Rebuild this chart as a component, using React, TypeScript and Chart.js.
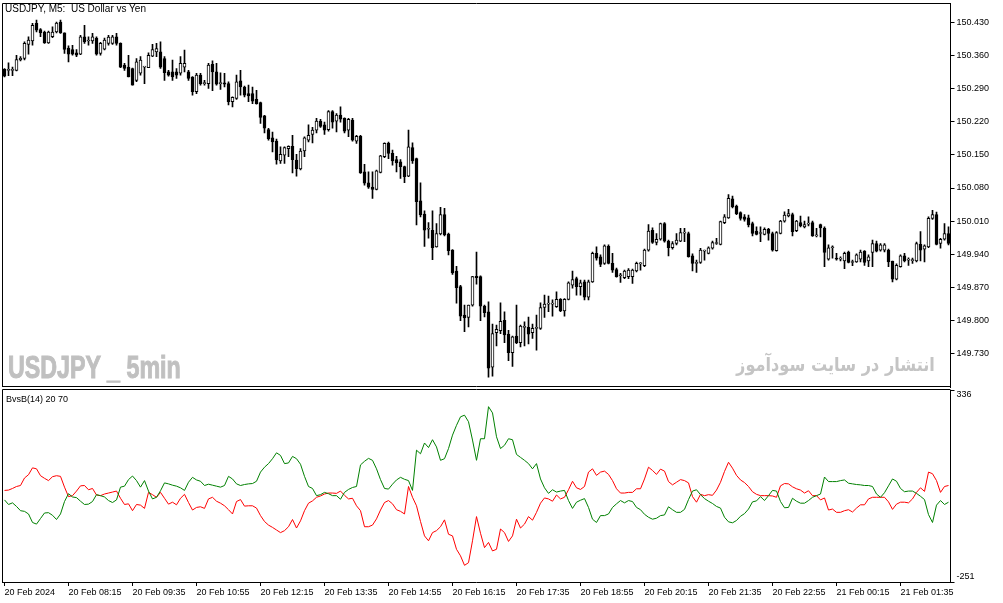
import React, { useEffect, useRef } from "react";
import { Chart, registerables } from "chart.js";

Chart.register(...registerables);

// ---- price data (USDJPY, M5) ----
const OPEN = [
  150.330,150.328,150.328,150.328,150.350,150.353,150.383,150.390,150.427,150.414,
  150.409,150.386,150.399,150.409,150.430,150.407,150.375,150.372,150.365,150.362,
  150.399,150.390,150.390,150.396,150.364,150.373,150.385,150.385,150.399,150.385,
  150.339,150.335,150.332,150.307,150.322,150.335,150.334,150.358,150.367,150.367,
  150.353,150.325,150.325,150.325,150.322,150.335,150.325,150.314,150.283,150.318,
  150.300,150.300,150.341,150.325,150.300,150.302,150.300,150.262,150.269,150.306,
  150.293,150.279,150.279,150.267,150.260,150.232,150.203,150.186,150.179,150.137,
  150.149,150.163,150.168,150.139,150.120,150.158,150.181,150.193,150.202,150.221,
  150.213,150.203,150.241,150.221,150.234,150.227,150.202,150.223,150.179,150.189,
  150.114,150.091,150.082,150.077,150.113,150.146,150.174,150.153,150.140,150.135,
  150.125,150.105,150.165,150.142,150.053,150.025,149.993,149.991,149.956,149.983,
  150.024,149.983,149.949,149.905,149.872,149.812,149.807,149.833,149.894,149.893,
  149.831,149.819,149.702,149.775,149.779,149.801,149.772,149.733,149.768,149.754,
  149.786,149.786,149.775,149.784,149.784,149.828,149.835,149.835,149.830,149.845,
  149.821,149.845,149.875,149.889,149.872,149.882,149.850,149.882,149.942,149.935,
  149.921,149.957,149.921,149.908,149.895,149.891,149.893,149.893,149.905,149.920,
  149.916,149.949,149.991,149.965,149.972,150.005,149.968,149.954,149.963,149.968,
  149.985,149.984,149.937,149.921,149.923,149.947,149.942,149.953,149.963,149.961,
  150.007,150.017,150.057,150.042,150.028,150.019,150.017,150.005,149.989,149.984,
  149.982,149.993,149.984,149.948,149.984,150.010,150.021,150.024,149.990,150.007,
  149.998,150.004,150.007,149.979,150.003,149.995,149.930,149.954,149.932,149.930,
  149.926,149.945,149.923,149.924,149.930,149.947,149.926,149.944,149.963,149.949,
  149.949,149.949,149.926,149.888,149.914,149.937,149.928,149.927,149.926,149.961,
  149.951,149.956,150.016,150.024,149.963,149.972,149.984,
];
const HIGH = [
  150.332,150.344,150.335,150.360,150.357,150.388,150.399,150.427,150.434,150.416,
  150.411,150.411,150.420,150.430,150.434,150.407,150.380,150.381,150.372,150.402,
  150.423,150.399,150.406,150.399,150.387,150.396,150.402,150.402,150.406,150.386,
  150.343,150.360,150.333,150.353,150.357,150.336,150.365,150.383,150.385,150.388,
  150.357,150.328,150.350,150.332,150.357,150.371,150.328,150.315,150.322,150.322,
  150.307,150.343,150.348,150.343,150.323,150.322,150.304,150.272,150.318,150.328,
  150.295,150.297,150.293,150.286,150.261,150.233,150.206,150.198,150.183,150.167,
  150.167,150.169,150.191,150.151,150.163,150.188,150.213,150.208,150.227,150.225,
  150.219,150.243,150.243,150.237,150.251,150.228,150.227,150.227,150.191,150.191,
  150.130,150.114,150.114,150.118,150.149,150.175,150.177,150.160,150.147,150.140,
  150.126,150.202,150.175,150.143,150.091,150.032,150.007,150.032,150.005,150.039,
  150.037,149.985,149.950,149.915,149.875,149.833,149.833,149.894,149.945,149.895,
  149.833,149.840,149.793,149.791,149.838,149.819,149.780,149.768,149.833,149.791,
  149.798,149.808,149.793,149.812,149.838,149.854,149.852,149.844,149.861,149.847,
  149.847,149.882,149.905,149.892,149.886,149.886,149.886,149.945,149.956,149.939,
  149.960,149.960,149.942,149.911,149.900,149.907,149.910,149.909,149.924,149.923,
  149.951,150.003,149.996,149.984,150.006,150.007,149.970,149.967,149.984,149.995,
  149.995,149.987,149.941,149.928,149.953,149.949,149.956,149.968,149.974,150.010,
  150.024,150.066,150.063,150.044,150.030,150.024,150.023,150.008,149.998,149.998,
  149.996,149.995,149.987,149.988,150.012,150.030,150.035,150.027,150.012,150.021,
  150.010,150.019,150.010,149.995,150.004,149.998,149.960,149.958,149.942,149.935,
  149.945,149.947,149.928,149.941,149.949,149.948,149.939,149.970,149.968,149.963,
  149.963,149.951,149.926,149.920,149.939,149.942,149.933,149.932,149.966,149.988,
  149.960,150.019,150.033,150.029,149.974,150.005,149.998,
];
const LOW = [
  150.314,150.317,150.317,150.327,150.348,150.350,150.362,150.381,150.409,150.399,
  150.385,150.385,150.397,150.407,150.406,150.364,150.346,150.360,150.357,150.361,
  150.385,150.381,150.385,150.360,150.360,150.371,150.381,150.383,150.381,150.334,
  150.328,150.314,150.297,150.304,150.318,150.300,150.334,150.357,150.357,150.332,
  150.307,150.316,150.307,150.311,150.318,150.325,150.307,150.276,150.279,150.297,
  150.297,150.290,150.285,150.297,150.288,150.293,150.255,150.251,150.267,150.276,
  150.272,150.262,150.258,150.257,150.216,150.196,150.181,150.156,150.130,150.132,
  150.132,150.146,150.112,150.105,150.118,150.146,150.177,150.175,150.196,150.208,
  150.193,150.200,150.206,150.198,150.219,150.196,150.188,150.179,150.174,150.111,
  150.086,150.079,150.058,150.076,150.112,150.144,150.142,150.128,150.114,150.100,
  150.091,150.104,150.132,150.002,150.019,149.957,149.974,149.929,149.955,149.981,
  149.979,149.939,149.898,149.837,149.800,149.777,149.787,149.831,149.877,149.800,
  149.808,149.681,149.683,149.747,149.773,149.754,149.716,149.704,149.752,149.745,
  149.747,149.751,149.763,149.738,149.782,149.807,149.819,149.810,149.828,149.819,
  149.810,149.844,149.869,149.854,149.854,149.844,149.844,149.881,149.928,149.914,
  149.919,149.920,149.902,149.892,149.881,149.889,149.889,149.879,149.903,149.907,
  149.914,149.947,149.963,149.960,149.970,149.966,149.937,149.951,149.960,149.967,
  149.967,149.934,149.905,149.902,149.921,149.928,149.941,149.951,149.961,149.960,
  150.005,150.016,150.038,150.024,150.012,150.010,149.998,149.979,149.981,149.967,
  149.981,149.970,149.947,149.947,149.983,150.008,150.019,149.979,149.988,149.998,
  149.996,150.000,149.978,149.977,149.977,149.914,149.928,149.932,149.928,149.926,
  149.910,149.922,149.916,149.923,149.924,149.917,149.914,149.914,149.945,149.947,
  149.945,149.914,149.882,149.886,149.913,149.924,149.917,149.921,149.924,149.926,
  149.924,149.954,150.014,149.960,149.953,149.970,149.960,
];
const CLOSE = [
  150.316,150.328,150.328,150.351,150.354,150.385,150.392,150.423,150.413,150.407,
  150.386,150.409,150.409,150.428,150.407,150.372,150.362,150.362,150.360,150.399,
  150.388,150.390,150.399,150.362,150.385,150.392,150.398,150.399,150.385,150.335,
  150.332,150.314,150.297,150.346,150.350,150.335,150.360,150.372,150.374,150.335,
  150.323,150.318,150.314,150.318,150.343,150.343,150.311,150.283,150.318,150.300,
  150.300,150.339,150.325,150.299,150.300,150.299,150.262,150.271,150.304,150.293,
  150.276,150.274,150.263,150.258,150.229,150.206,150.184,150.177,150.139,150.151,
  150.165,150.168,150.140,150.121,150.158,150.186,150.191,150.202,150.221,150.210,
  150.202,150.241,150.219,150.234,150.225,150.200,150.225,150.181,150.189,150.112,
  150.090,150.082,150.077,150.116,150.148,150.174,150.153,150.137,150.133,150.125,
  150.104,150.167,150.137,150.051,150.023,149.991,149.993,149.954,149.984,150.024,
  149.981,149.948,149.901,149.870,149.810,149.806,149.833,149.893,149.891,149.831,
  149.817,149.700,149.773,149.782,149.799,149.770,149.733,149.766,149.754,149.789,
  149.786,149.772,149.784,149.784,149.828,149.835,149.837,149.835,149.845,149.821,
  149.845,149.880,149.887,149.872,149.880,149.850,149.882,149.942,149.932,149.919,
  149.958,149.921,149.907,149.893,149.895,149.905,149.907,149.907,149.921,149.920,
  149.949,149.989,149.965,149.972,150.005,149.968,149.954,149.963,149.970,149.986,
  149.985,149.935,149.921,149.921,149.949,149.947,149.954,149.965,149.963,150.009,
  150.019,150.058,150.040,150.026,150.016,150.014,150.002,149.984,149.982,149.984,
  149.993,149.984,149.949,149.986,150.010,150.023,150.026,149.988,150.010,150.000,
  150.003,150.004,149.979,149.979,149.996,149.944,149.954,149.954,149.930,149.930,
  149.942,149.923,149.923,149.939,149.945,149.923,149.935,149.963,149.947,149.960,
  149.960,149.924,149.888,149.917,149.937,149.926,149.928,149.929,149.963,149.949,
  149.958,150.016,150.024,149.961,149.972,149.984,149.963,
];

// ---- BvsB(14) indicator ----
const BEARS = [
  0,-14,-9,-20,-33,-35,-43,-69,-74,-57,
  -40,-39,-47,-60,-43,-5,19,9,7,-4,
  -14,-13,-5,16,13,9,-2,-8,0,39,
  42,62,73,59,39,59,27,3,8,28,
  52,49,45,42,37,29,54,69,61,57,
  44,48,45,42,39,44,72,64,49,44,
  47,49,50,57,85,100,111,126,144,136,
  111,113,133,126,109,72,41,35,13,16,
  23,19,13,13,2,23,32,38,41,107,
  118,127,121,95,62,35,33,48,61,69,
  63,59,29,152,141,174,160,184,162,121,
  126,157,198,228,254,259,239,183,121,187,
  187,285,266,193,157,167,187,184,139,130,
  121,111,95,111,64,37,20,31,24,27,
  29,-2,-26,-7,-1,4,-23,-59,-69,-48,
  -48,-43,-23,-12,-2,-9,-2,-5,-23,-30,
  -44,-53,-59,-56,-48,-46,-21,-30,-38,-38,
  -29,1,27,31,16,4,-4,-11,-20,-25,
  -53,-67,-70,-63,-50,-42,-28,-6,-3,10,
  -2,13,29,27,-5,-24,-23,5,-4,-10,
  -10,-2,8,13,18,70,56,56,56,59,
  61,51,49,47,46,44,44,41,18,8,
  22,43,64,57,35,25,27,27,20,11,
  1,-45,-69,-16,-2,-14,-7,
];
const BULLS = [
  29,30,35,41,44,67,77,98,95,74,
  66,59,71,74,72,39,10,13,27,43,
  44,31,35,15,13,18,21,24,27,5,
  -14,-12,-33,-14,-16,-26,23,16,8,23,
  5,-13,-7,-15,5,17,-8,-31,-23,-21,
  -26,3,8,-4,-10,-18,-30,-43,-5,1,
  -19,-18,-18,-25,-48,-66,-77,-84,-92,-100,
  -94,-82,-60,-86,-64,-33,-10,-3,8,12,
  18,21,21,20,27,14,3,5,-18,-33,
  -82,-82,-77,-58,-31,-8,-2,-12,-30,-35,
  -43,41,8,-18,-66,-110,-125,-100,-94,-82,
  -61,-105,-110,-151,-171,-200,-192,-125,-51,-102,
  -146,-130,-156,-151,-89,-100,-127,-110,-59,-86,
  -74,-51,-62,-38,-10,6,3,-4,15,3,
  8,31,57,37,32,41,85,95,75,85,
  88,78,59,34,21,21,23,23,34,34,
  64,100,90,78,94,88,56,46,54,62,
  59,52,10,-7,17,13,16,14,30,54,
  87,115,97,75,61,53,41,25,17,13,
  13,13,12,8,43,50,49,40,34,30,
  21,28,13,13,0,6,-31,-28,-38,-38,
  -33,-30,-37,-25,-15,-15,3,8,8,8,
  8,-6,-29,-13,-7,-7,-9,3,23,37,
  26,85,80,59,23,41,44,
];

const PRICE_TICKS = [150.43, 150.36, 150.29, 150.22, 150.15, 150.08, 150.01, 149.94, 149.87, 149.8, 149.73];
const PRICE_MIN = 149.6604;
const PRICE_MAX = 150.4701;
const IND_MAX = 336;
const IND_MIN = -251;

const FIRST_LABEL = "20 Feb 2024";
const START_DAY = 20;
const START_MINUTE = 6 * 60 + 55;
const BAR_MINUTES = 5;
const LABEL_EVERY = 16;

const pad2 = (n: number) => String(n).padStart(2, "0");
const CATEGORIES = CLOSE.map((_, i) => {
  const t = START_MINUTE + i * BAR_MINUTES;
  const day = START_DAY + Math.floor(t / 1440);
  const m = t % 1440;
  return `${day} Feb ${pad2(Math.floor(m / 60))}:${pad2(m % 60)}`;
});

const FONT = "'Liberation Sans', Arial, sans-serif";

const framePlugin = {
  id: "frame",
  afterDraw(chart: any, _args: any, opts: any) {
    const { ctx, chartArea: a } = chart;
    const left = Math.floor(a.left) + 0.5;
    const right = Math.floor(a.right) + 0.5;
    const top = Math.round(a.top) + (opts.topShift || 0) + 0.5;
    const bottom = Math.round(a.bottom) - 0.5;
    ctx.save();
    ctx.strokeStyle = "#000";
    ctx.lineWidth = 1;
    ctx.beginPath();
    ctx.moveTo(left, bottom + 0.5);
    ctx.lineTo(left, top);
    ctx.lineTo(right, top);
    if (opts.bottom) {
      ctx.moveTo(left, bottom);
      ctx.lineTo(right, bottom);
    }
    ctx.stroke();
    ctx.restore();
  },
};

const extremesPlugin = {
  id: "extremes",
  afterDraw(chart: any) {
    const { ctx, chartArea: a } = chart;
    const y = chart.scales.y;
    ctx.save();
    ctx.fillStyle = "#000";
    ctx.font = `9px ${FONT}`;
    ctx.textAlign = "left";
    ctx.textBaseline = "middle";
    ctx.fillText(String(y.max), a.right + 6, a.top + 5);
    ctx.fillText(String(y.min), a.right + 6, a.bottom - 5);
    ctx.restore();
  },
};

export default function App() {
  const topRef = useRef<HTMLCanvasElement>(null);
  const botRef = useRef<HTMLCanvasElement>(null);

  useEffect(() => {
    document.body.style.margin = "0";
    const font = { family: FONT, size: 9 };
    const bull = CLOSE.map((c, i) => c >= OPEN[i]);

    const top = new Chart(topRef.current as HTMLCanvasElement, {
      type: "bar",
      data: {
        labels: CATEGORIES,
        datasets: [
          {
            label: "wick",
            data: LOW.map((l, i) => [l, HIGH[i]]),
            backgroundColor: "#000",
            borderWidth: 0,
            barThickness: 1,
            grouped: false,
            order: 2,
          } as any,
          {
            label: "body",
            data: OPEN.map((o, i) => [o, CLOSE[i]]),
            backgroundColor: bull.map((b) => (b ? "#fff" : "#000")),
            borderColor: "#000",
            borderWidth: 1,
            borderSkipped: false,
            barThickness: 3,
            minBarLength: 1,
            grouped: false,
            order: 1,
          } as any,
        ],
      },
      options: {
        animation: false,
        responsive: false,
        events: [],
        layout: { padding: { left: 2.5, top: 3, right: 0, bottom: 1 } },
        plugins: {
          legend: { display: false },
          tooltip: { enabled: false },
          frame: { bottom: true },
        } as any,
        scales: {
          x: { display: false, offset: true },
          y: {
            position: "right",
            min: PRICE_MIN,
            max: PRICE_MAX,
            afterBuildTicks: (s: any) => {
              s.ticks = PRICE_TICKS.map((v) => ({ value: v }));
            },
            afterFit: (s: any) => {
              s.width = 52.5;
              s.paddingTop = 0;
              s.paddingBottom = 0;
            },
            ticks: {
              font,
              color: "#000",
              padding: 2,
              callback: (v: any) => Number(v).toFixed(3),
            },
            grid: { drawOnChartArea: false, color: "#000", tickLength: 4 },
            border: { color: "#000" },
          } as any,
        },
      },
      plugins: [framePlugin],
    });

    const bot = new Chart(botRef.current as HTMLCanvasElement, {
      type: "line",
      data: {
        labels: CATEGORIES,
        datasets: [
          {
            label: "Bears",
            data: BEARS,
            borderColor: "#008000",
            borderWidth: 1,
            pointRadius: 0,
            tension: 0,
          },
          {
            label: "Bulls",
            data: BULLS,
            borderColor: "#ff0000",
            borderWidth: 1,
            pointRadius: 0,
            tension: 0,
          },
        ],
      },
      options: {
        animation: false,
        responsive: false,
        events: [],
        layout: { padding: { left: 2.5, top: 2, right: 0, bottom: 0 } },
        plugins: {
          legend: { display: false },
          tooltip: { enabled: false },
          frame: { bottom: false, topShift: -1 },
        } as any,
        scales: {
          x: {
            offset: true,
            afterFit: (s: any) => {
              s.height = 21;
              s.paddingLeft = 0;
              s.paddingRight = 0;
            },
            grid: { drawOnChartArea: false, color: "#000", tickLength: 4, offset: false },
            border: { color: "#000" },
            ticks: {
              autoSkip: false,
              maxRotation: 0,
              minRotation: 0,
              align: "start",
              padding: 1,
              font,
              color: "#000",
              callback: (_v: any, i: number) =>
                i % LABEL_EVERY === 0 ? (i === 0 ? FIRST_LABEL : CATEGORIES[i]) : null,
            },
          } as any,
          y: {
            position: "right",
            min: IND_MIN,
            max: IND_MAX,
            afterBuildTicks: (s: any) => {
              s.ticks = [{ value: IND_MAX }, { value: IND_MIN }];
            },
            afterFit: (s: any) => {
              s.width = 52.5;
              s.paddingTop = 0;
              s.paddingBottom = 0;
            },
            ticks: { display: false },
            grid: { drawOnChartArea: false, color: "#000", tickLength: 4 },
            border: { color: "#000" },
          } as any,
        },
      },
      plugins: [framePlugin, extremesPlugin],
    });

    return () => {
      top.destroy();
      bot.destroy();
    };
  }, []);

  return (
    <div style={{ position: "relative", width: 1003, height: 603, background: "#fff", overflow: "hidden" }}>
      <canvas ref={topRef} width={1003} height={388} style={{ position: "absolute", left: 0, top: 0, width: 1003, height: 388 }} />
      <canvas ref={botRef} width={1003} height={215} style={{ position: "absolute", left: 0, top: 388, width: 1003, height: 215 }} />
      <div style={{ position: "absolute", left: 5, top: 3, fontFamily: FONT, fontSize: 10, lineHeight: "12px", color: "#000", whiteSpace: "pre" }}>
        {"USDJPY, M5:  US Dollar vs Yen"}
      </div>
      <div style={{ position: "absolute", left: 6, top: 393, fontFamily: FONT, fontSize: 9, lineHeight: "12px", color: "#000", whiteSpace: "pre" }}>
        {"BvsB(14) 20 70"}
      </div>
      <div style={{ position: "absolute", left: 8, top: 350, fontFamily: "'Liberation Sans Narrow', 'Liberation Sans', sans-serif", fontWeight: "bold", fontSize: 31, lineHeight: "36px", color: "#c0c0c0", whiteSpace: "pre", transform: "scaleX(0.75)", transformOrigin: "0 0", WebkitTextStroke: "1px #c0c0c0" }}>
        {"USDJPY _ 5min"}
      </div>
      <div dir="rtl" style={{ position: "absolute", right: 68, top: 351, fontFamily: "'DejaVu Sans', 'Noto Sans', sans-serif", fontWeight: "bold", fontSize: 19, lineHeight: "26px", color: "#c4c4c4", whiteSpace: "pre", transform: "scaleX(0.85)", transformOrigin: "100% 0" }}>
        {"انتشار در سایت سودآموز"}
      </div>
    </div>
  );
}
